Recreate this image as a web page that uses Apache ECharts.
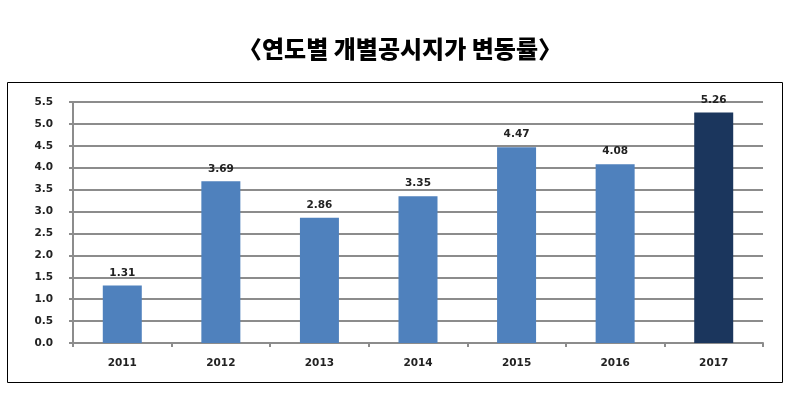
<!DOCTYPE html>
<html><head><meta charset="utf-8">
<script src="https://cdn.jsdelivr.net/npm/echarts@6/dist/echarts.min.js"></script>
<style>html,body{margin:0;padding:0;background:#fff}#c{width:800px;height:395px}</style>
</head><body><div id="c"></div>
<script>
const title = '〈연도별 개별공시지가 변동률〉';
const categories = ['2011','2012','2013','2014','2015','2016','2017'];
const values = [1.31, 3.69, 2.86, 3.35, 4.47, 4.08, 5.26];
const yTicks = ['0.0','0.5','1.0','1.5','2.0','2.5','3.0','3.5','4.0','4.5','5.0','5.5'];
const highlightIndex = 6;

const chart = echarts.init(document.getElementById('c'));
const lblFont = '"DejaVu Sans", Verdana, sans-serif';
chart.setOption({
  animation: false,
  title: {
    text: title, left: 'center', top: 32,
    textStyle: { fontFamily: '"Noto Sans CJK KR", sans-serif', fontWeight: 900, fontSize: 24, color: '#000' }
  },
  graphic: [{
    type: 'rect', shape: { x: 7.5, y: 82.5, width: 775, height: 300 },
    style: { fill: 'none', stroke: '#000', lineWidth: 1 }
  }],
  grid: { left: 73, right: 37, top: 102, bottom: 52 },
  xAxis: {
    type: 'category', data: categories,
    axisLine: { lineStyle: { color: '#8c8c8c', width: 2 } },
    axisTick: { show: true, length: 4, lineStyle: { color: '#8c8c8c', width: 2 } },
    axisLabel: { color: '#222', fontFamily: lblFont, fontWeight: 'bold', fontSize: 10.5, margin: 15 }
  },
  yAxis: {
    type: 'value', min: 0, max: 5.5, interval: 0.5,
    axisLine: { show: true, lineStyle: { color: '#8c8c8c', width: 2 } },
    axisTick: { show: true, length: 4, lineStyle: { color: '#8c8c8c', width: 2 } },
    splitLine: { lineStyle: { color: '#8c8c8c', width: 2 } },
    axisLabel: { color: '#222', fontFamily: lblFont, fontWeight: 'bold', fontSize: 10.5, margin: 20,
      formatter: (v) => yTicks[Math.round(v / 0.5)] }
  },
  series: [{
    type: 'bar', barWidth: 39,
    data: values.map((v, i) => ({ value: v, itemStyle: { color: i === highlightIndex ? '#1b365d' : '#4f81bd' } })),
    label: { show: true, position: 'top', distance: 7, color: '#222', fontFamily: lblFont, fontWeight: 'bold', fontSize: 10.5,
      formatter: (p) => p.value.toFixed(2) }
  }]
});
</script></body></html>
